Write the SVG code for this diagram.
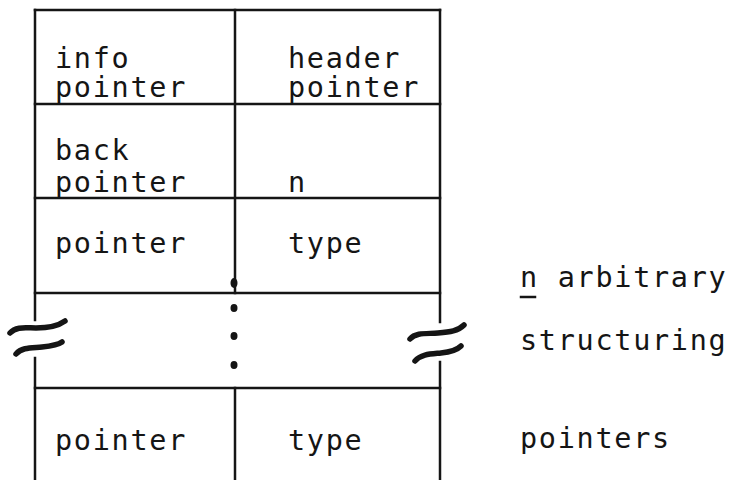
<svg xmlns="http://www.w3.org/2000/svg" width="733" height="480" viewBox="0 0 733 480">
<style>
.ln{stroke:#151515;stroke-width:2.5;fill:none;stroke-linecap:square}
.sq{stroke:#151515;stroke-width:5.5;fill:none;stroke-linecap:round}
.t{font-family:"DejaVu Sans Mono","Liberation Mono",monospace;font-size:28.5px;letter-spacing:1.7px;fill:#151515}
.dot{fill:#151515}
</style>
<rect width="733" height="480" fill="#ffffff"/>
<g id="connectors">
<line class="ln" x1="35" y1="10" x2="440" y2="10"/>
<line class="ln" x1="35" y1="104" x2="440" y2="104"/>
<line class="ln" x1="35" y1="198" x2="440" y2="198"/>
<line class="ln" x1="35" y1="293" x2="440" y2="293"/>
<line class="ln" x1="35" y1="388" x2="440" y2="388"/>
<line class="ln" x1="35" y1="10" x2="35" y2="320"/>
<line class="ln" x1="35" y1="358" x2="35" y2="480"/>
<line class="ln" x1="440" y1="10" x2="440" y2="322"/>
<line class="ln" x1="440" y1="362" x2="440" y2="480"/>
<line class="ln" x1="235" y1="10" x2="235" y2="293"/>
<line class="ln" x1="235" y1="388" x2="235" y2="480"/>
<ellipse class="dot" cx="234" cy="283" rx="3.5" ry="5"/>
<ellipse class="dot" cx="234" cy="308" rx="3.5" ry="4"/>
<ellipse class="dot" cx="234" cy="336" rx="3.5" ry="4"/>
<ellipse class="dot" cx="234" cy="365" rx="3.5" ry="4"/>
</g>
<g id="break-left">
<path class="sq" d="M10,333 C16,326 26,328 36,328 C48,328 58,326 65,321"/>
<path class="sq" d="M16,354 C22,347 32,348 42,347 C52,346 58,345 62,342"/>
</g>
<g id="break-right">
<path class="sq" d="M410,339 C416,332 428,334 438,333 C450,332 458,331 464,325"/>
<path class="sq" d="M415,361 C421,354 431,354 441,353 C451,352 457,350 461,346"/>
</g>
<g id="row1">
<text class="t" x="55" y="68">info</text>
<text class="t" x="55" y="97">pointer</text>
<text class="t" x="288" y="68">header</text>
<text class="t" x="288" y="97">pointer</text>
</g>
<g id="row2">
<text class="t" x="55" y="160">back</text>
<text class="t" x="55" y="192">pointer</text>
<text class="t" x="288" y="192">n</text>
</g>
<g id="row3">
<text class="t" x="55" y="253">pointer</text>
<text class="t" x="288" y="253">type</text>
</g>
<g id="row5">
<text class="t" x="55" y="450">pointer</text>
<text class="t" x="288" y="450">type</text>
</g>
<g id="note">
<text class="t" x="520" y="287">n arbitrary</text>
<line class="ln" x1="521" y1="297" x2="535" y2="297"/>
<text class="t" x="520" y="350">structuring</text>
<text class="t" x="520" y="448">pointers</text>
</g>
</svg>
